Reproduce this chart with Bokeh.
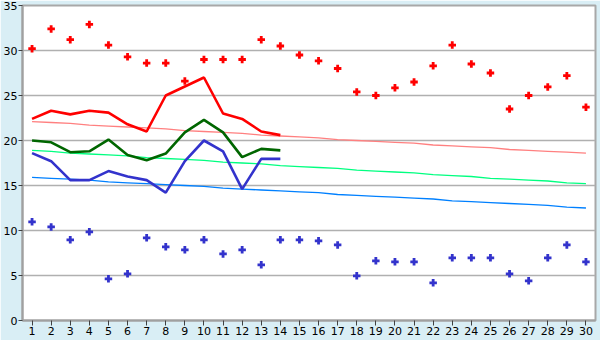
from bokeh.plotting import figure
from bokeh.models import FixedTicker, Range1d
from bokeh.embed import file_html
from bokeh.resources import INLINE

days = list(range(1, 31))

record_high = [30.2, 32.4, 31.2, 32.9, 30.6, 29.3, 28.6, 28.6, 26.6, 29.0,
               29.0, 29.0, 31.2, 30.5, 29.5, 28.85, 28.0, 25.4, 25.0, 25.85,
               26.5, 28.3, 30.6, 28.5, 27.5, 23.5, 25.0, 25.95, 27.2, 23.7]
record_low = [10.96, 10.4, 8.96, 9.85, 4.63, 5.19, 9.19, 8.19, 7.85, 8.96,
              7.4, 7.85, 6.19, 8.96, 8.96, 8.85, 8.4, 4.96, 6.63, 6.52,
              6.52, 4.19, 6.96, 6.96, 6.96, 5.19, 4.41, 6.96, 8.4, 6.52]

obs_days = list(range(1, 15))
obs_max = [22.4, 23.3, 22.9, 23.3, 23.1, 21.8, 21.0, 25.0, 26.0, 27.0, 23.0, 22.4, 21.0, 20.6]
obs_mean = [20.0, 19.8, 18.7, 18.8, 20.1, 18.4, 17.8, 18.55, 20.9, 22.3, 20.9, 18.15, 19.07, 18.9]
obs_min = [18.6, 17.7, 15.6, 15.6, 16.6, 16.0, 15.6, 14.2, 17.7, 20.0, 18.8, 14.6, 17.96, 17.96]

norm_max = [22.1, 22.0, 21.9, 21.7, 21.6, 21.5, 21.4, 21.3, 21.1, 21.0,
            20.9, 20.8, 20.6, 20.5, 20.4, 20.3, 20.1, 20.0, 19.9, 19.8,
            19.7, 19.5, 19.4, 19.3, 19.2, 19.0, 18.9, 18.8, 18.7, 18.6]
norm_mean = [18.9, 18.8, 18.6, 18.5, 18.4, 18.3, 18.1, 18.0, 17.9, 17.8,
             17.6, 17.5, 17.4, 17.2, 17.1, 17.0, 16.9, 16.7, 16.6, 16.5,
             16.4, 16.2, 16.1, 16.0, 15.8, 15.7, 15.6, 15.5, 15.3, 15.2]
norm_min = [15.9, 15.8, 15.7, 15.6, 15.4, 15.3, 15.2, 15.1, 15.0, 14.9,
            14.7, 14.6, 14.5, 14.4, 14.3, 14.2, 14.0, 13.9, 13.8, 13.7,
            13.6, 13.5, 13.3, 13.2, 13.1, 13.0, 12.9, 12.8, 12.6, 12.5]

y_ticks = [0, 5, 10, 15, 20, 25, 30, 35]

p = figure(width=600, height=340, output_backend="svg", toolbar_location=None,
           x_range=Range1d(0.5, 30.5), y_range=Range1d(0, 35),
           min_border_left=20, min_border_right=5, min_border_top=5, min_border_bottom=20)

p.background_fill_color = "white"
p.border_fill_color = "#D9EEF5"
p.outline_line_color = "#A8A8A8"
p.outline_line_width = 2

p.xgrid.grid_line_color = None
p.ygrid.grid_line_color = "#B0B0B0"
p.ygrid.grid_line_width = 1.5
p.yaxis.ticker = FixedTicker(ticks=y_ticks)
p.xaxis.ticker = FixedTicker(ticks=days)

for ax in (p.xaxis, p.yaxis):
    ax.axis_line_color = "#A0A0A0"
    ax.axis_line_width = 2
    ax.major_tick_line_color = "#404040"
    ax.major_tick_in = 0
    ax.minor_tick_line_color = None
    ax.major_label_text_font = "DejaVu Sans"
    ax.major_label_text_font_size = "11px"
    ax.major_label_text_color = "black"
p.xaxis.major_tick_out = 5
p.xaxis.major_label_standoff = 1
p.yaxis.major_tick_out = 4
p.yaxis.major_label_standoff = 1

# normals (thin)
p.line(days, norm_max, line_color="#FF8080", line_width=1.3)
p.line(days, norm_mean, line_color="#00FF80", line_width=1.3)
p.line(days, norm_min, line_color="#0080FF", line_width=1.3)

# observed (thick)
p.line(obs_days, obs_max, line_color="#FF0000", line_width=2.6)
p.line(obs_days, obs_mean, line_color="#006600", line_width=2.6)
p.line(obs_days, obs_min, line_color="#3333CC", line_width=2.6)

# records
p.scatter(days, record_high, marker="plus", size=7.5, fill_color="#FF0000", line_color=None)
p.scatter(days, record_low, marker="plus", size=7.5, fill_color="#3333CC", line_color=None)

open("out.html", "w").write(file_html(p, INLINE))
